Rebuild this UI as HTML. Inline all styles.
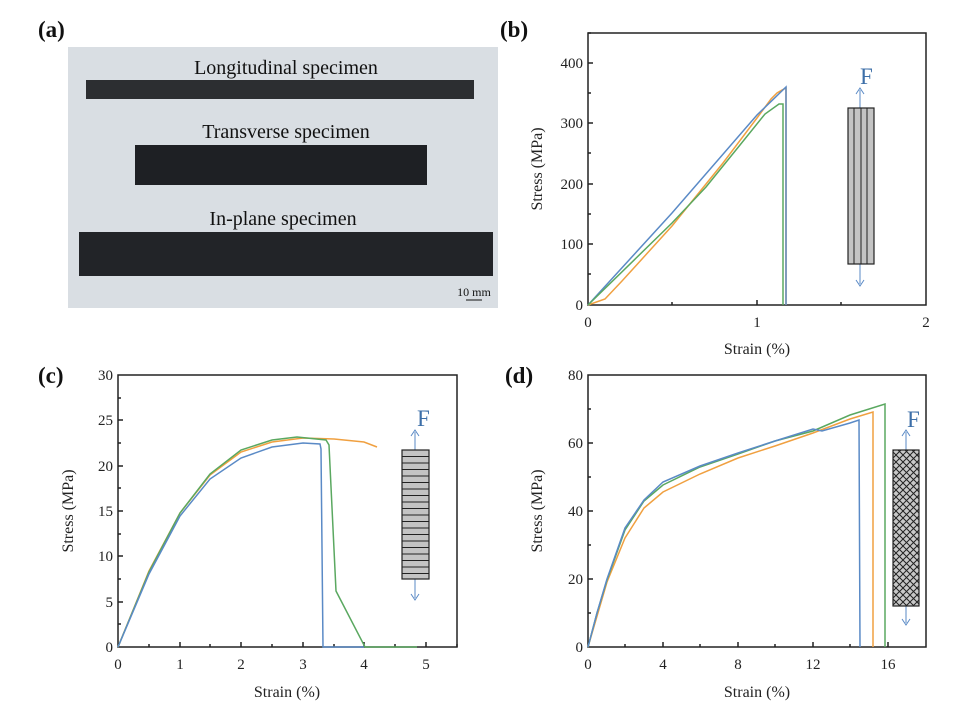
<!DOCTYPE html>
<html><head><meta charset="utf-8"><style>
html,body{margin:0;padding:0;background:#fff;}
svg{display:block;font-family:"Liberation Serif",serif;}
</style></head><body>
<svg width="968" height="719" viewBox="0 0 968 719" xmlns="http://www.w3.org/2000/svg">
<defs>
<pattern id="xh" width="7" height="7" patternUnits="userSpaceOnUse">
<rect width="7" height="7" fill="#c8c8c8"/>
<path d="M0,0L7,7M7,0L0,7" stroke="#222" stroke-width="1"/>
</pattern>
</defs>
<rect width="968" height="719" fill="#fff"/>
<g font-weight="bold" font-size="23" fill="#111">
<text x="38" y="37">(a)</text><text x="500" y="37">(b)</text>
<text x="38" y="383">(c)</text><text x="505" y="383">(d)</text>
</g>
<rect x="68" y="47" width="430" height="261" fill="#d9dee3"/>
<g font-size="20" fill="#111" text-anchor="middle">
<text x="286" y="74">Longitudinal specimen</text>
<text x="286" y="138">Transverse specimen</text>
<text x="283" y="225">In-plane specimen</text>
</g>
<rect x="86" y="80" width="388" height="19" fill="#2c2e31"/>
<rect x="135" y="145" width="292" height="40" fill="#1e2024"/>
<rect x="79" y="232" width="414" height="44" fill="#222428"/>
<text x="474" y="296" font-size="12" fill="#111" text-anchor="middle">10 mm</text>
<line x1="466" y1="300" x2="482" y2="300" stroke="#111" stroke-width="1"/>

<g stroke="#222" stroke-width="1.5" fill="none">
<rect x="588" y="33" width="338" height="272"/>
<path d="M588,244h5M588,184h5M588,123h5M588,63h5M588,274h3M588,214h3M588,153h3M588,93h3M588,33h3
M757,305v-5M672,305v-3M841,305v-3"/>
<rect x="118" y="375" width="339" height="272"/>
<path d="M118,602h5M118,556h5M118,511h5M118,466h5M118,420h5M118,624h3M118,579h3M118,534h3M118,488h3M118,443h3M118,398h3
M180,647v-5M241,647v-5M303,647v-5M364,647v-5M426,647v-5M149,647v-3M210,647v-3M272,647v-3M334,647v-3M395,647v-3M457,647v-3"/>
<rect x="588" y="375" width="338" height="272"/>
<path d="M588,579h5M588,511h5M588,443h5M588,613h3M588,545h3M588,477h3M588,409h3
M663,647v-5M738,647v-5M813,647v-5M888,647v-5M625,647v-3M700,647v-3M775,647v-3M850,647v-3"/>
</g>
<g font-size="15" fill="#222" text-anchor="end">
<text x="583" y="310">0</text><text x="583" y="249">100</text><text x="583" y="189">200</text><text x="583" y="128">300</text><text x="583" y="68">400</text>
<text x="113" y="652">0</text><text x="113" y="607">5</text><text x="113" y="561">10</text><text x="113" y="516">15</text><text x="113" y="471">20</text><text x="113" y="425">25</text><text x="113" y="380">30</text>
<text x="583" y="652">0</text><text x="583" y="584">20</text><text x="583" y="516">40</text><text x="583" y="448">60</text><text x="583" y="380">80</text>
</g>
<g font-size="15" fill="#222" text-anchor="middle">
<text x="588" y="327">0</text><text x="757" y="327">1</text><text x="926" y="327">2</text>
<text x="118" y="669">0</text><text x="180" y="669">1</text><text x="241" y="669">2</text><text x="303" y="669">3</text><text x="364" y="669">4</text><text x="426" y="669">5</text>
<text x="588" y="669">0</text><text x="663" y="669">4</text><text x="738" y="669">8</text><text x="813" y="669">12</text><text x="888" y="669">16</text>
</g>
<g font-size="16" fill="#222" text-anchor="middle">
<text x="757" y="354">Strain (%)</text>
<text x="287" y="697">Strain (%)</text>
<text x="757" y="697">Strain (%)</text>
<text transform="translate(542,169) rotate(-90)">Stress (MPa)</text>
<text transform="translate(73,511) rotate(-90)">Stress (MPa)</text>
<text transform="translate(542,511) rotate(-90)">Stress (MPa)</text>
</g>
<g fill="none" stroke-width="1.5">
<polyline stroke="#f0a040" points="588,305 605,299 622,281 672,226 723,163 757,118 771,99 777,93 782,90 786,88 786,305"/>
<polyline stroke="#5a8ac6" points="588,305 672,213 757,115 786,87 786,305"/>
<polyline stroke="#5aa860" points="588,305 672,223 706,187 740,145 765,114 779,104 783,104 783,305"/>
</g>
<g fill="none" stroke-width="1.5">
<polyline stroke="#f0a040" points="118,647 149,571 180,513 210,475 241,452 272,442 303,438 334,439 364,442 377,447"/>
<polyline stroke="#5aa860" points="118,647 149,572 180,513 210,474 241,450 272,440 297,437 326,440 329,445 336,591 365,647 417,647"/>
<polyline stroke="#5a8ac6" points="118,647 149,574 180,516 210,479 241,458 272,447 303,443 320,444 321,449 323,647 364,647"/>
</g>
<g fill="none" stroke-width="1.5">
<polyline stroke="#f0a040" points="588,647 607,582 625,538 644,508 663,492 700,474 738,458 775,446 813,433 850,419 873,412 873,647"/>
<polyline stroke="#5aa860" points="588,647 597,613 607,580 625,530 644,501 663,485 700,467 738,454 775,441 813,431 850,415 885,404 885,647"/>
<polyline stroke="#5a8ac6" points="588,647 597,613 607,579 625,528 644,500 663,482 700,466 738,453 775,441 813,429 822,431 850,423 859,420 860,647"/>
</g>
<g stroke="#5a8ac6" stroke-width="1" fill="#5a8ac6">
<line x1="860" y1="90" x2="860" y2="284"/>
<path d="M856,94L860,88L864,94" fill="none"/><path d="M856,280L860,286L864,280" fill="none"/>
<line x1="415" y1="432" x2="415" y2="598"/>
<path d="M411,436L415,430L419,436" fill="none"/><path d="M411,594L415,600L419,594" fill="none"/>
<line x1="906" y1="432" x2="906" y2="623"/>
<path d="M902,436L906,430L910,436" fill="none"/><path d="M902,619L906,625L910,619" fill="none"/>
</g>
<g font-size="23" fill="#3d6fa8">
<text x="860" y="84">F</text><text x="417" y="426">F</text><text x="907" y="427">F</text>
</g>
<rect x="848" y="108" width="26" height="156" fill="#c4c4c4" stroke="#222" stroke-width="1.2"/>
<path d="M854,108V264M861,108V264M867,108V264" stroke="#222" stroke-width="1"/>
<rect x="402" y="450" width="27" height="129" fill="#c4c4c4" stroke="#222" stroke-width="1.2"/>
<path d="M402,456.5h27M402,463h27M402,469.5h27M402,476h27M402,482.5h27M402,489h27M402,495.5h27M402,502h27M402,508.5h27M402,515h27M402,521.5h27M402,528h27M402,534.5h27M402,541h27M402,547.5h27M402,554h27M402,560.5h27M402,567h27M402,573.5h27" stroke="#222" stroke-width="1"/>
<rect x="893" y="450" width="26" height="156" fill="url(#xh)" stroke="#222" stroke-width="1.2"/>
</svg>
</body></html>
